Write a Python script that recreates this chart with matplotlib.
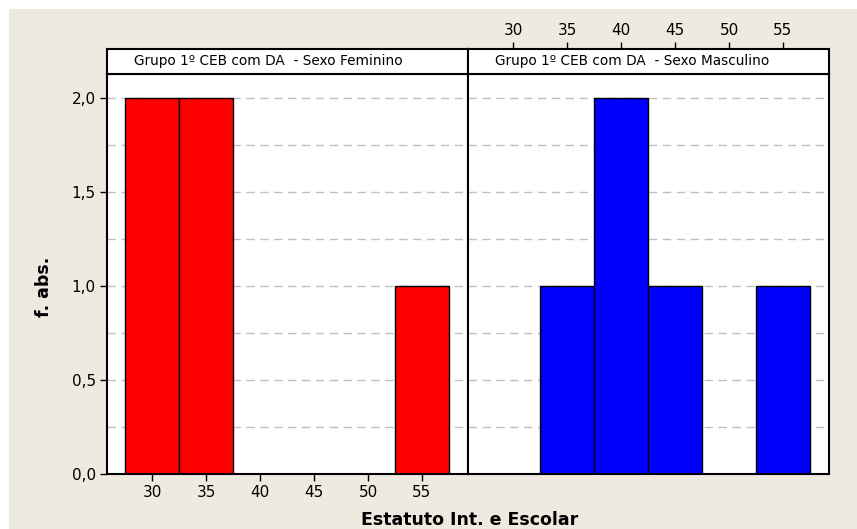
import matplotlib
matplotlib.use("Agg")
import matplotlib.pyplot as plt

# Data
bins = [30, 35, 40, 45, 50, 55]
fem_counts = [2, 2, 0, 0, 0, 1]
masc_counts = [0, 1, 2, 1, 0, 1]
titles = ["Grupo 1º CEB com DA  - Sexo Feminino", "Grupo 1º CEB com DA  - Sexo Masculino"]
yticks = [0.0, 0.5, 1.0, 1.5, 2.0]
ytick_labels = ["0,0", "0,5", "1,0", "1,5", "2,0"]
xlabel = "Estatuto Int. e Escolar"
ylabel = "f. abs."

W, H = 857, 529
plt.rcParams['font.family'] = ['DejaVu Sans']
fig = plt.figure(figsize=(W / 100, H / 100), dpi=100, facecolor='white')

def px(x0, y0, x1, y1):
    return [x0 / W, (H - y1) / H, (x1 - x0) / W, (y1 - y0) / H]

# beige background
bg = fig.add_axes(px(9, 9, W, H), zorder=-10)
bg.set_facecolor('#eeeae0')
bg.set_xticks([]); bg.set_yticks([])
for s in bg.spines.values():
    s.set_visible(False)

xlim = (25.83, 59.26)
ylim = (0, 2.128)
panels = [(107, 468, fem_counts, '#ff0000'), (468, 829, masc_counts, '#0000ff')]
for i, (x0, x1, counts, col) in enumerate(panels):
    ax = fig.add_axes(px(x0, 74, x1, 474))
    ax.set_facecolor('white')
    ax.set_xlim(*xlim); ax.set_ylim(*ylim)
    for g in [0.25 * k for k in range(1, 9)]:
        ax.axhline(g, color='#c0c0c0', lw=1, ls=(0, (6, 4)), zorder=0)
    ax.bar(bins, counts, width=5, color=col, edgecolor='black', linewidth=1, zorder=2)
    for s in ax.spines.values():
        s.set_linewidth(1.5); s.set_color('black')
    if i == 0:
        ax.set_xticks(bins)
        ax.set_xticklabels([str(b) for b in bins], fontsize=11)
        ax.set_yticks(yticks)
        ax.set_yticklabels(ytick_labels, fontsize=11)
        ax.tick_params(length=5, width=1, direction='out', pad=3)
    else:
        ax.set_xticks([]); ax.set_yticks([])
    # strip
    st = fig.add_axes(px(x0, 49, x1, 74))
    st.set_facecolor('white')
    st.set_xlim(*xlim); st.set_ylim(0, 1)
    st.set_yticks([])
    for s in st.spines.values():
        s.set_linewidth(1.5); s.set_color('black')
    st.text(27 / (x1 - x0), 0.52, titles[i], transform=st.transAxes,
            ha='left', va='center', fontsize=9.8)
    if i == 1:
        st.xaxis.tick_top()
        st.set_xticks(bins)
        st.set_xticklabels([str(b) for b in bins], fontsize=11)
        st.tick_params(length=5, width=1, direction='out', pad=3)
    else:
        st.set_xticks([])

fig.text(44 / W, 1 - 287 / H, ylabel, rotation=90, ha='center', va='center',
         fontsize=12.5, fontweight='bold')
fig.text(470 / W, 1 - 520 / H, xlabel, ha='center', va='center',
         fontsize=12.5, fontweight='bold')

fig.savefig('out.png', dpi=100, facecolor='white')
